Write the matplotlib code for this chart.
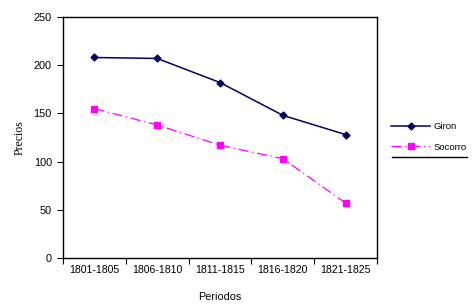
import matplotlib
matplotlib.use("Agg")
import matplotlib.pyplot as plt
from matplotlib.lines import Line2D

periodos = ["1801-1805", "1806-1810", "1811-1815", "1816-1820", "1821-1825"]
giron = [208, 207, 182, 148, 128]
socorro = [155, 138, 117, 103, 57]
yticks = [0, 50, 100, 150, 200, 250]

narrow = ["Liberation Sans", "DejaVu Sans"]

fig = plt.figure(figsize=(4.73, 3.08), dpi=100)
ax = fig.add_axes([0.1332, 0.1623, 0.664, 0.7825])

x = list(range(len(periodos)))
ax.plot(x, giron, color="#000066", lw=1.1, marker="D", ms=3.5, label="Giron")
ax.plot(x, socorro, color="#FF00FF", lw=0.9, ls=(0, (8, 3, 1, 3)),
        marker="s", ms=5, label="Socorro")

ax.set_xlim(-0.5, len(periodos) - 0.5)
ax.set_ylim(0, 250)
ax.set_yticks(yticks)
ax.set_yticklabels([str(v) for v in yticks], family=narrow, fontsize=7.8)
ax.set_xticks([i - 0.5 for i in range(len(periodos) + 1)])
ax.set_xticklabels([])
ax.set_xticks(x, minor=True)
ax.set_xticklabels(periodos, minor=True, family=narrow, fontsize=7.6)
ax.tick_params(axis="x", which="minor", length=0, pad=5)
ax.tick_params(axis="x", which="major", length=4, width=0.8)
ax.tick_params(axis="y", length=4, width=0.8, pad=4)
for s in ax.spines.values():
    s.set_linewidth(1.0)

ax.set_xlabel("Periodos", family=narrow, fontsize=7.8, labelpad=12.5)
ax.set_ylabel("Precios", family="Liberation Serif", fontsize=8.5, labelpad=6)

leg = fig.legend(loc="upper left", bbox_to_anchor=(0.818, 0.615), frameon=False,
                 prop={"family": narrow, "size": 6.8}, handlelength=4.2,
                 labelspacing=1.2, handletextpad=0.3, borderaxespad=0)
fig.add_artist(Line2D([392 / 473, 467 / 473], [1 - 157 / 308, 1 - 157 / 308],
                      color="black", lw=1.0))

fig.savefig("out.png", dpi=100)
